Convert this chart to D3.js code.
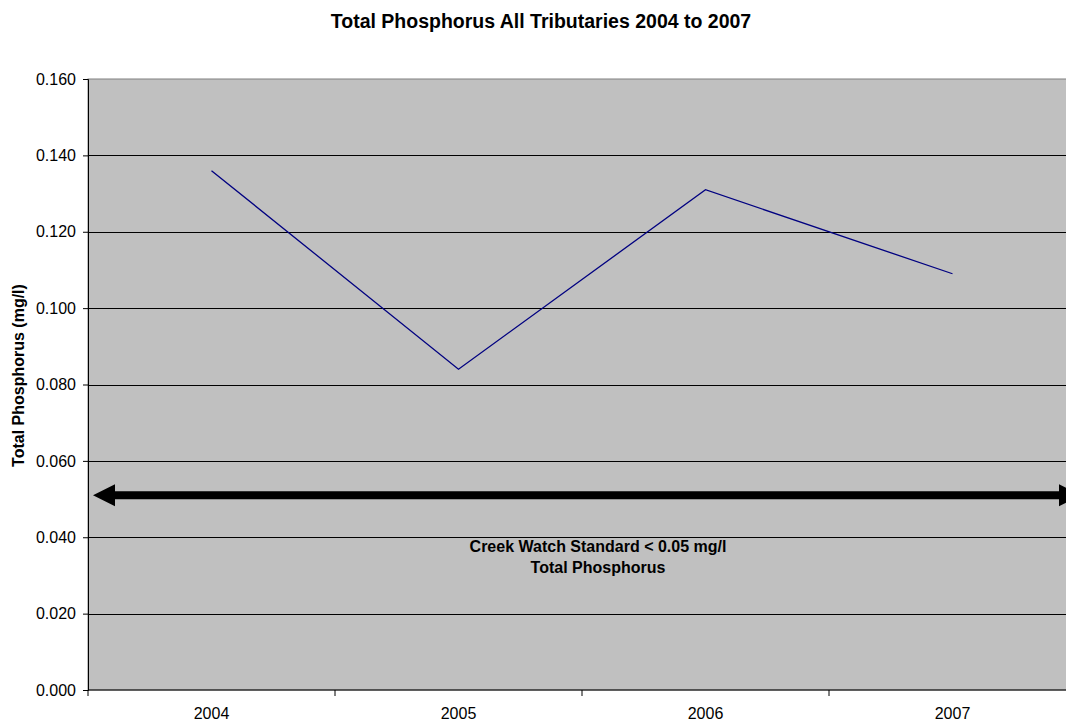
<!DOCTYPE html>
<html>
<head>
<meta charset="utf-8">
<script src="https://cdn.jsdelivr.net/npm/d3@7"></script>
<style>
	body { margin: 0; background: #fff; }
	svg text { font-family: Arial, "Liberation Sans", sans-serif; }
</style>
</head>
<body>
<svg id="chart" width="1066" height="721"></svg>
<script>
// data
var years = ["2004", "2005", "2006", "2007"];
var phosphorus = [0.136, 0.084, 0.131, 0.109];
var y_ticks = [0, 0.02, 0.04, 0.06, 0.08, 0.10, 0.12, 0.14, 0.16];
var standard = 0.051;
var standard_label = ["Creek Watch Standard < 0.05 mg/l", "Total Phosphorus"];

var svg = d3.select("#chart");
var m = {left: 88, top: 79}, w = 988, h = 611;
var g = svg.append("g").attr("transform", "translate(" + m.left + "," + m.top + ")");

var x = d3.scaleBand().domain(years).range([0, w]);
var y = d3.scaleLinear().domain([0, 0.16]).range([h, 0]);

// plot area
g.append("rect").attr("width", w).attr("height", h)
	.attr("fill", "#c0c0c0").attr("stroke", "#808080");

// grid
g.selectAll(".grid").data(y_ticks.slice(1, -1)).enter().append("line")
	.attr("class", "grid")
	.attr("x1", 0).attr("x2", w)
	.attr("y1", function(d){ return Math.round(y(d)) + 0.5; })
	.attr("y2", function(d){ return Math.round(y(d)) + 0.5; })
	.attr("stroke", "#000").attr("stroke-width", 1);

// y axis
var ya = g.append("g").call(d3.axisLeft(y).tickValues(y_ticks)
	.tickFormat(d3.format(".3f")).tickSize(5).tickPadding(7));
ya.select(".domain").attr("stroke", "#000");
ya.selectAll("text").attr("font-size", "16px").attr("fill", "#000");

// x axis: labels centred in bands, ticks on band edges
var xa = g.append("g").attr("transform", "translate(0," + h + ")");
xa.append("line").attr("x1", 0).attr("x2", w).attr("stroke", "#000");
xa.selectAll(".tk").data(years.concat(["end"])).enter().append("line")
	.attr("class", "tk")
	.attr("x1", function(d){ return d == "end" ? w : x(d); })
	.attr("x2", function(d){ return d == "end" ? w : x(d); })
	.attr("y1", 0).attr("y2", 6).attr("stroke", "#000");
xa.selectAll(".lbl").data(years).enter().append("text")
	.attr("class", "lbl")
	.attr("x", function(d){ return x(d) + x.bandwidth() / 2; })
	.attr("y", 29).attr("text-anchor", "middle")
	.attr("font-size", "16px").text(function(d){ return d; });

// standard arrow
var ay = y(standard), head = 22, half = 11;
var ax0 = 5, ax1 = w + 5;
g.append("line").attr("x1", ax0 + head).attr("x2", ax1 - head)
	.attr("y1", ay).attr("y2", ay)
	.attr("stroke", "#000").attr("stroke-width", 8);
g.append("path").attr("fill", "#000")
	.attr("d", "M" + ax0 + "," + ay + "L" + (ax0 + head) + "," + (ay - half) + "L" + (ax0 + head) + "," + (ay + half) + "Z");
g.append("path").attr("fill", "#000")
	.attr("d", "M" + ax1 + "," + ay + "L" + (ax1 - head) + "," + (ay - half) + "L" + (ax1 - head) + "," + (ay + half) + "Z");

g.selectAll(".std").data(standard_label).enter().append("text")
	.attr("class", "std")
	.attr("x", 510).attr("y", function(d, i){ return 473 + i * 21; })
	.attr("text-anchor", "middle").attr("font-size", "16px").attr("font-weight", "bold")
	.text(function(d){ return d; });

// series
var line = d3.line()
	.x(function(d, i){ return x(years[i]) + x.bandwidth() / 2; })
	.y(function(d){ return y(d); });
g.append("path").datum(phosphorus).attr("d", line)
	.attr("fill", "none").attr("stroke", "#000080").attr("stroke-width", 1.3);

// titles
svg.append("text").attr("x", 541).attr("y", 28).attr("text-anchor", "middle")
	.attr("font-size", "19.5px").attr("font-weight", "bold")
	.text("Total Phosphorus All Tributaries 2004 to 2007");
svg.append("text").attr("transform", "translate(24," + (m.top + h / 2 - 9) + ") rotate(-90)")
	.attr("text-anchor", "middle").attr("font-size", "16px").attr("font-weight", "bold")
	.text("Total Phosphorus (mg/l)");
</script>
</body>
</html>
